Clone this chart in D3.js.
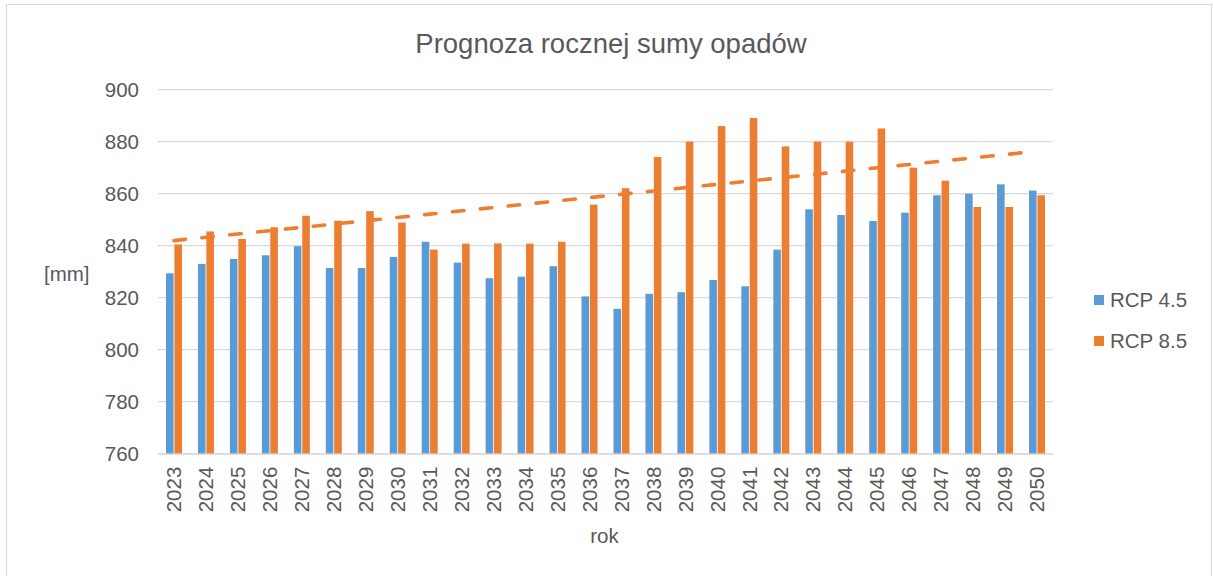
<!DOCTYPE html>
<html>
<head>
<meta charset="utf-8">
<script src="https://cdn.jsdelivr.net/npm/d3@7"></script>
<style>
  body { margin: 0; background: #fff; }
  svg { display: block; font-family: "Liberation Sans", Arial, sans-serif; }
</style>
</head>
<body>
<div id="chart"></div>
<script>
// data
const years = [2023, 2024, 2025, 2026, 2027, 2028, 2029, 2030, 2031, 2032, 2033, 2034, 2035, 2036,
               2037, 2038, 2039, 2040, 2041, 2042, 2043, 2044, 2045, 2046, 2047, 2048, 2049, 2050];
const rcp45 = [829.4, 833.0, 834.9, 836.3, 839.8, 831.4, 831.4, 835.7, 841.5, 833.5, 827.5, 828.1, 832.1, 820.5,
               815.7, 821.5, 822.1, 826.8, 824.4, 838.5, 854.0, 851.8, 849.5, 852.7, 859.4, 860.0, 863.6, 861.2];
const rcp85 = [840.5, 845.5, 842.6, 847.1, 851.5, 849.6, 853.3, 848.9, 838.5, 840.8, 840.9, 840.8, 841.5, 855.8,
               862.1, 874.1, 880.0, 886.0, 889.1, 878.2, 880.0, 880.0, 885.1, 870.0, 865.0, 854.9, 854.9, 859.4];
const seriesNames = ["RCP 4.5", "RCP 8.5"];
const colors = ["#5B9BD5", "#ED7D31"];
const yTicks = [760, 780, 800, 820, 840, 860, 880, 900];

const W = 1213, H = 576;
const margin = {top: 90, right: 160, bottom: 122, left: 158};
const textColor = "#595959";

const svg = d3.select("#chart").append("svg")
    .attr("width", W)
    .attr("height", H);

// outer chart border
svg.append("rect")
    .attr("x", 6.5).attr("y", 4.5)
    .attr("width", W - 8).attr("height", H)
    .attr("fill", "none")
    .attr("stroke", "#d9d9d9")
    .attr("stroke-width", 1);

const x = d3.scaleBand()
    .domain(years)
    .range([margin.left, W - margin.right])
    .paddingInner(0.5)
    .paddingOuter(0.25);

const x1 = d3.scaleBand()
    .domain([0, 1])
    .range([0, x.bandwidth()])
    .paddingInner(0.1);

const y = d3.scaleLinear()
    .domain([760, 900])
    .range([H - margin.bottom - 0.3, margin.top - 0.3]);

// gridlines
svg.append("g")
    .selectAll("line")
    .data(yTicks)
    .enter()
    .append("line")
        .attr("x1", margin.left)
        .attr("x2", W - margin.right)
        .attr("y1", d => y(d))
        .attr("y2", d => y(d))
        .attr("stroke", "#d9d9d9")
        .attr("stroke-width", 1.3);

// y axis labels
svg.append("g")
    .attr("transform", "translate(" + margin.left + ",0)")
    .call(d3.axisLeft(y).tickValues(yTicks).tickSize(0).tickPadding(19))
    .call(g => g.select(".domain").remove())
    .call(g => g.selectAll("text")
        .attr("font-size", "20.5px")
        .attr("fill", textColor)
        .attr("font-family", "Liberation Sans, Arial, sans-serif"));

// bars
const groups = svg.append("g")
    .selectAll("g")
    .data(years)
    .enter()
    .append("g")
        .attr("transform", d => "translate(" + x(d) + ",0)");

groups.selectAll("rect")
    .data((d, i) => [rcp45[i], rcp85[i]])
    .enter()
    .append("rect")
        .attr("x", (d, j) => x1(j))
        .attr("y", d => y(d))
        .attr("width", x1.bandwidth())
        .attr("height", d => y(760) - y(d))
        .attr("fill", (d, j) => colors[j]);

// x axis
svg.append("g")
    .attr("transform", "translate(0," + y(760) + ")")
    .call(d3.axisBottom(x).tickSize(0).tickPadding(0))
    .call(g => g.select(".domain").attr("stroke", "#d9d9d9").attr("stroke-width", 1.3))
    .call(g => g.selectAll("text")
        .attr("font-size", "20.5px")
        .attr("fill", textColor)
        .attr("font-family", "Liberation Sans, Arial, sans-serif")
        .attr("text-anchor", "end")
        .attr("dy", "0.35em")
        .attr("transform", "translate(0,13) rotate(-90)"));

// linear trendline for RCP 8.5
const idx = d3.range(1, years.length + 1);
const mx = d3.mean(idx), my = d3.mean(rcp85);
const slope = d3.sum(idx, (t, i) => (t - mx) * (rcp85[i] - my)) / d3.sum(idx, t => (t - mx) * (t - mx));
const icpt = my - slope * mx;

svg.append("path")
    .datum(years)
    .attr("fill", "none")
    .attr("stroke", "#ED7D31")
    .attr("stroke-width", 3.6)
    .attr("stroke-linecap", "round")
    .attr("stroke-dasharray", "11.5 16.5")
    .attr("d", d3.line()
        .x(d => x(d) + x.bandwidth() / 2)
        .y((d, i) => y(icpt + slope * (i + 1))));

// title
svg.append("text")
    .attr("x", 611)
    .attr("y", 53)
    .attr("text-anchor", "middle")
    .attr("font-size", "27.5px")
    .attr("fill", textColor)
    .text("Prognoza rocznej sumy opadów");

// axis titles
svg.append("text")
    .attr("x", 44)
    .attr("y", 281)
    .attr("font-size", "20.5px")
    .attr("fill", textColor)
    .text("[mm]");

svg.append("text")
    .attr("x", x(2036) + x.bandwidth() + 7)
    .attr("y", 543)
    .attr("text-anchor", "middle")
    .attr("font-size", "20.5px")
    .attr("fill", textColor)
    .text("rok");

// legend
const legend = svg.append("g")
    .selectAll("g")
    .data(seriesNames)
    .enter()
    .append("g")
        .attr("transform", (d, i) => "translate(1094," + (300 + i * 41) + ")");

legend.append("rect")
    .attr("x", 0)
    .attr("y", -5)
    .attr("width", 10)
    .attr("height", 10)
    .attr("fill", (d, i) => colors[i]);

legend.append("text")
    .attr("x", 16)
    .attr("y", 0)
    .attr("dy", "0.35em")
    .attr("font-size", "20.5px")
    .attr("fill", textColor)
    .text(d => d);
</script>
</body>
</html>
